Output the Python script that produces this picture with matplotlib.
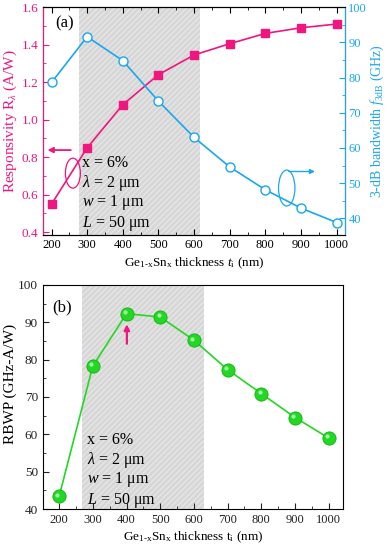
import matplotlib
matplotlib.use("Agg")
import matplotlib.pyplot as plt
from matplotlib.patches import Ellipse
from matplotlib.ticker import MultipleLocator
from matplotlib.transforms import offset_copy

plt.rcParams['font.family'] = ['Liberation Serif', 'DejaVu Serif']
plt.rcParams['mathtext.fontset'] = 'custom'
plt.rcParams['mathtext.rm'] = 'Liberation Serif'
plt.rcParams['mathtext.it'] = 'Liberation Serif:italic'

# data
thickness = [200, 300, 400, 500, 600, 700, 800, 900, 1000]
responsivity = [0.55, 0.85, 1.08, 1.24, 1.345, 1.405, 1.46, 1.49, 1.51]
bandwidth = [78.6, 91.6, 84.8, 73.3, 63.0, 54.6, 48.1, 42.9, 38.8]
rbwp = [43.4, 78.3, 92.3, 91.4, 85.2, 77.3, 70.9, 64.5, 59.0]
params = ["x = 6%", r"$\lambda$ = 2 $\mathrm{\mu}$m",
          r"$w$ = 1 $\mathrm{\mu}$m", r"$L$ = 50 $\mathrm{\mu}$m"]

PINK = '#f0157f'
CYAN = '#1aa7ec'
GREEN = '#22d822'

fig = plt.figure(figsize=(3.87, 5.50), dpi=100)

# ---- panel (a)
ax = fig.add_axes([0.111, 0.573, 0.780, 0.414])
ax2 = ax.twinx()
ax.axvspan(277, 617, facecolor='#d6d6d6', edgecolor='#e6e6e6', hatch='//////', lw=0, zorder=0)
ax.plot(thickness, responsivity, '-s', color=PINK, ms=6, lw=1.2, zorder=3)
ax2.plot(thickness, bandwidth, '-o', color=CYAN, mfc='white', mec=CYAN, ms=6.5, mew=1.0, lw=1.2)
ax.set_xlim(176, 1023)
ax.set_ylim(0.386, 1.6)
ax2.set_ylim(35.3, 100)
ax.xaxis.set_major_locator(MultipleLocator(100))
ax.xaxis.set_minor_locator(MultipleLocator(50))
ax.yaxis.set_major_locator(MultipleLocator(0.2))
ax.yaxis.set_minor_locator(MultipleLocator(0.1))
ax2.yaxis.set_major_locator(MultipleLocator(10))
ax2.yaxis.set_minor_locator(MultipleLocator(5))
ax.tick_params(axis='x', which='both', direction='in', top=True, labelsize=9, pad=3)
ax.tick_params(axis='x', which='major', length=4)
ax.tick_params(axis='x', which='minor', length=2)
ax.tick_params(axis='y', which='both', direction='in', colors=PINK, labelsize=9.5)
ax.tick_params(axis='y', which='major', length=4)
ax.tick_params(axis='y', which='minor', length=2)
ax2.tick_params(axis='y', which='both', direction='in', colors=CYAN, labelsize=9, pad=2.5)
ax2.tick_params(axis='y', which='major', length=4)
ax2.tick_params(axis='y', which='minor', length=2)
ax.yaxis.set_major_formatter(plt.FuncFormatter(lambda v, p: f"{v:.1f}"))
ax2.spines['left'].set_color(PINK)
ax2.spines['right'].set_color(CYAN)
ax.set_ylabel(r"Responsivity R$_\lambda$ (A/W)", color=PINK, fontsize=11, labelpad=2)
ax2.set_ylabel(r"3-dB bandwidth $f_{\mathrm{3dB}}$ (GHz)", color=CYAN, fontsize=10, labelpad=1)
ax.set_xlabel(r"Ge$_{1\text{-x}}$Sn$_\mathrm{x}$ thickness $t_\mathrm{i}$ (nm)", fontsize=9.5, labelpad=3)
ax.text(0.04, 0.93, "(a)", transform=ax.transAxes, fontsize=12, va='center')
for i, s in enumerate(params):
    ax.text(0.13, 0.316 - i * 0.088, s, transform=ax.transAxes, fontsize=11.5, va='center')
ax.add_patch(Ellipse((260, 0.715), 42, 0.16, fill=False, ec=PINK, lw=0.9, zorder=4))
ax.annotate("", xy=(181, 0.838), xytext=(262, 0.838),
            arrowprops=dict(arrowstyle='-|>', color=PINK, lw=1.3, mutation_scale=8))
ax2.add_patch(Ellipse((860, 48.6), 46, 10.2, fill=False, ec=CYAN, lw=0.9, zorder=4))
ax2.annotate("", xy=(947, 53.3), xytext=(858, 53.3),
             arrowprops=dict(arrowstyle='-|>', color=CYAN, lw=1.0, mutation_scale=7))

# ---- panel (b)
bx = fig.add_axes([0.111, 0.0745, 0.775, 0.4075])
bx.axvspan(269, 629, facecolor='#d6d6d6', edgecolor='#e6e6e6', hatch='//////', lw=0, zorder=0)
bx.plot(thickness, rbwp, '-', color=GREEN, lw=1.2, zorder=2)
bx.plot(thickness, rbwp, 'o', color=GREEN, mec='#12b012', ms=9.5, mew=0.6, zorder=3)
hl = offset_copy(bx.transData, fig=fig, x=-1.2, y=1.2, units='points')
bx.plot(thickness, rbwp, 'o', color='#b8ffb8', mec='none', ms=3, alpha=0.9, transform=hl, zorder=4)
bx.set_xlim(152, 1042)
bx.set_ylim(40, 100)
bx.xaxis.set_major_locator(MultipleLocator(100))
bx.xaxis.set_minor_locator(MultipleLocator(50))
bx.yaxis.set_major_locator(MultipleLocator(10))
bx.yaxis.set_minor_locator(MultipleLocator(5))
bx.tick_params(which='both', direction='in', labelsize=9, colors='#222222')
bx.tick_params(axis='y', labelsize=9.5)
bx.tick_params(which='major', length=4)
bx.tick_params(which='minor', length=2)
bx.set_ylabel("RBWP (GHz-A/W)", fontsize=11, labelpad=3)
bx.yaxis.set_label_coords(-0.085, 0.56)
bx.set_xlabel(r"Ge$_{1\text{-x}}$Sn$_\mathrm{x}$ thickness t$_\mathrm{i}$ (nm)", fontsize=9.5, labelpad=3)
bx.text(0.03, 0.9, "(b)", transform=bx.transAxes, fontsize=12, va='center')
for i, s in enumerate(params):
    bx.text(0.147, 0.31 - i * 0.09, s, transform=bx.transAxes, fontsize=11.5, va='center')
bx.annotate("", xy=(401, 90.2), xytext=(401, 83.5),
            arrowprops=dict(arrowstyle='-|>', color=PINK, lw=1.6, mutation_scale=8))

fig.savefig("out.png", dpi=100)
